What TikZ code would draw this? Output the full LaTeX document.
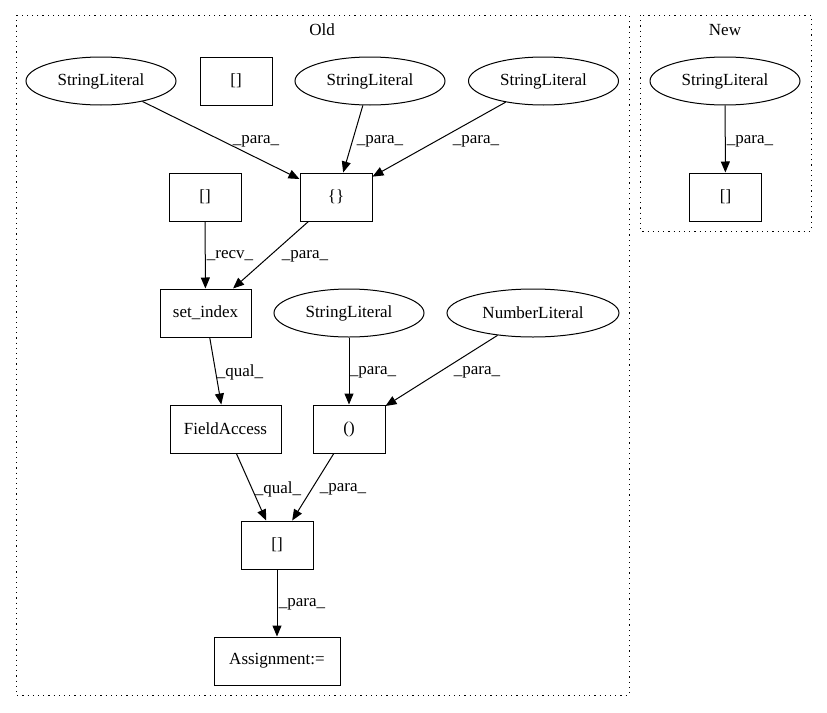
\documentclass[tikz,border=0pt]{standalone}
\usepackage{fontspec}
\setmainfont{Liberation Serif}
\usepackage{xcolor}
\usepackage{tikz}
\usetikzlibrary{shapes.geometric,arrows.meta}

\tikzset{
  lit/.style={ellipse,draw,black,line width=1pt,inner sep=0pt,minimum width=150pt,minimum height=48pt},
  box/.style={rectangle,draw,black,line width=1pt,inner sep=0pt,minimum width=72pt,minimum height=48pt},
  edge/.style={line width=1pt,-{Triangle[length=11pt,width=9pt]}},
  lbl/.style={inner sep=0pt},
  cluster/.style={line width=1pt,dash pattern=on 1.2pt off 4pt}
}

\begin{document}
\begin{tikzpicture}[x=1pt,y=-1pt,font=\fontsize{17}{19}\selectfont]
\useasboundingbox (0,0) rectangle (827,712);

% clusters
\draw[cluster] (16,15) rectangle (629,695);
\draw[cluster] (640,15) rectangle (811,231);
\node[lbl](oldlbl) at (322,30){Old};
\node[lbl](newlbl) at (725,30){New};

% old
\node[lit](sl1) at (101,81){StringLiteral};
\node[box](brk1) at (236,81){[]};
\node[lit](sl2) at (370,81){StringLiteral};
\node[lit](sl3) at (543.5,81){StringLiteral};
\node[box](brk2) at (205,197){[]};
\node[box](curly) at (336,197){\{\}};
\node[box,minimum width=91pt](setidx) at (205.5,313){set\_index};
\node[lit](sl4) at (349,313){StringLiteral};
\node[lit,minimum width=172pt](numlit) at (533,313){NumberLiteral};
\node[box,minimum width=111pt](fldacc) at (225.5,429){FieldAccess};
\node[box](paren) at (349,429){()};
\node[box](brk3) at (277,545){[]};
\node[box,minimum width=126pt](assign) at (277,661){Assignment:=};

% new
\node[lit](nsl) at (725,81){StringLiteral};
\node[box](nbrk) at (725.5,197){[]};

\draw[edge](sl1) -- (curly) node[lbl] at (256,141){\_para\_};
\draw[edge](sl2) -- (curly) node[lbl] at (380,141){\_para\_};
\draw[edge](sl3) -- (curly) node[lbl] at (476,141){\_para\_};
\draw[edge](brk2) -- (setidx) node[lbl] at (230,256){\_recv\_};
\draw[edge](curly) -- (setidx) node[lbl] at (305,256){\_para\_};
\draw[edge](setidx) -- (fldacc) node[lbl] at (240,372){\_qual\_};
\draw[edge](sl4) -- (paren) node[lbl] at (373,372){\_para\_};
\draw[edge](numlit) -- (paren) node[lbl] at (477,372){\_para\_};
\draw[edge](fldacc) -- (brk3) node[lbl] at (278,489){\_qual\_};
\draw[edge](paren) -- (brk3) node[lbl] at (343,489){\_para\_};
\draw[edge](brk3) -- (assign) node[lbl] at (302,604){\_para\_};
\draw[edge](nsl) -- (nbrk) node[lbl] at (750,141){\_para\_};

\end{tikzpicture}
\end{document}
